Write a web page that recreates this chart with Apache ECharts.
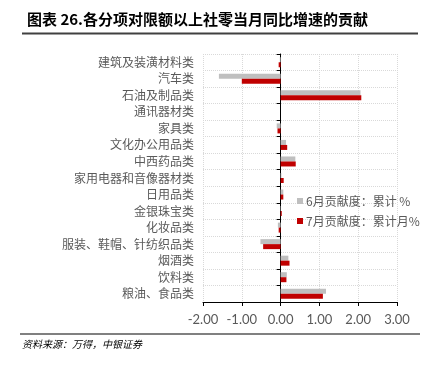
<!DOCTYPE html>
<html><head><meta charset="utf-8">
<script src="https://cdn.jsdelivr.net/npm/echarts@6/dist/echarts.min.js"></script>
<style>html,body{margin:0;padding:0;background:#fff}#c{width:432px;height:365px}</style>
</head><body><div id="c"></div>
<script>
const categories = ['建筑及装潢材料类','汽车类','石油及制品类','通讯器材类','家具类','文化办公用品类','中西药品类','家用电器和音像器材类','日用品类','金银珠宝类','化妆品类','服装、鞋帽、针纺织品类','烟酒类','饮料类','粮油、食品类'];
const juneValues = [-0.02,-1.59,2.06,0.0,-0.1,0.14,0.38,0.02,0.07,0.01,-0.07,-0.52,0.2,0.16,1.17];
const julyValues = [-0.05,-1.0,2.08,0.0,-0.08,0.17,0.39,0.08,0.07,0.03,-0.05,-0.45,0.23,0.15,1.09];
const seriesNames = ['6月贡献度：累计 %','7月贡献度：累计月%'];
const xTicks = {min:-2, max:3, interval:1};
const titleText = '图表 26.各分项对限额以上社零当月同比增速的贡献';
const sourceText = '资料来源：万得，中银证券';

const chart = echarts.init(document.getElementById('c'), null, {renderer:'canvas'});
const font = '"Noto Sans CJK SC","Noto Sans",sans-serif';
chart.setOption({
  animation:false,
  textStyle:{fontFamily:font},
  grid:{left:203,right:35,top:54,bottom:63,containLabel:false},
  legend:{
    orient:'vertical', left:292, top:190, itemWidth:6, itemHeight:6, itemGap:8,
    icon:'rect', textStyle:{color:'#595959',fontSize:12,fontFamily:font,padding:[0,0,0,-2]},
    data:seriesNames
  },
  xAxis:{
    type:'value', min:xTicks.min, max:xTicks.max, interval:xTicks.interval,
    axisLine:{show:true,onZero:false,lineStyle:{color:'#000',width:1}},
    axisTick:{show:true,length:4,lineStyle:{color:'#000'}},
    axisLabel:{color:'#595959',fontSize:13,margin:11,formatter:v=>v.toFixed(2),fontFamily:'Lato,"Noto Sans",sans-serif'},
    splitLine:{show:true,lineStyle:{color:'#D9D9D9',type:'dotted'}}
  },
  yAxis:[{
    type:'category', data:categories, inverse:true,
    axisLine:{show:false,onZero:false}, axisTick:{show:false},
    axisLabel:{color:'#595959',fontSize:12,margin:9},
    splitLine:{show:true,lineStyle:{color:'#D9D9D9',type:'dotted'}}
  },{
    type:'category', data:categories, inverse:true, position:'left',
    axisLine:{show:true,onZero:true,lineStyle:{color:'#000',width:1}},
    axisTick:{show:true,length:4,lineStyle:{color:'#000'}},
    axisLabel:{show:false}, splitLine:{show:false}
  }],
  series:[
    {name:seriesNames[0],type:'bar',yAxisIndex:0,data:juneValues,barWidth:5,barGap:'0%',itemStyle:{color:'#BFBFBF'}},
    {name:seriesNames[1],type:'bar',yAxisIndex:0,data:julyValues,barWidth:5,barGap:'0%',itemStyle:{color:'#C00000'}}
  ],
  graphic:[
    {type:'text',left:27,top:12,style:{text:titleText,font:'bold 15px '+font,fill:'#000'}},
    {type:'line',shape:{x1:22,y1:33.5,x2:418,y2:33.5},style:{stroke:'#404040',lineWidth:2}},
    {type:'line',shape:{x1:20,y1:334,x2:420,y2:334},style:{stroke:'#808080',lineWidth:2}},
    {type:'text',left:22,top:339,style:{text:sourceText,font:'italic 10px '+font,fill:'#000'}}
  ]
});
</script></body></html>
